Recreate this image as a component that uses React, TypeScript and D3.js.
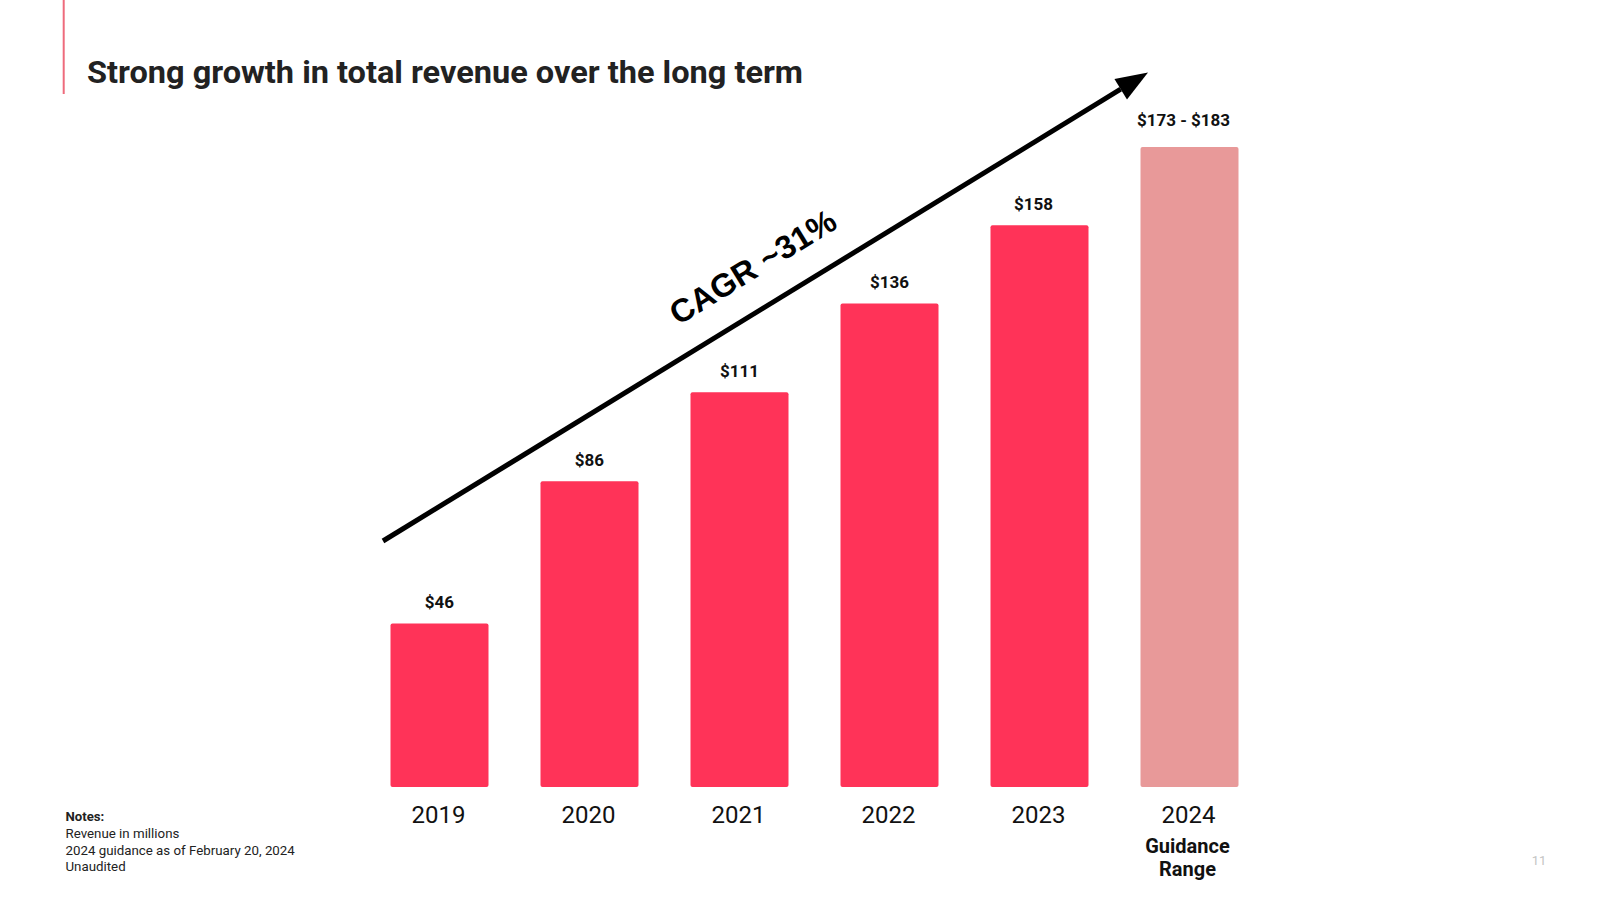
import React from "react";
import * as d3 from "d3";

const years = ["2019", "2020", "2021", "2022", "2023", "2024"];
const revenue = [46, 86, 111, 136, 158, 180];
const valueLabels = ["$46", "$86", "$111", "$136", "$158", "$173 - $183"];
const isGuidance = [false, false, false, false, false, true];
const subLabels = ["", "", "", "", "", "Guidance|Range"];
const notes = ["Revenue in millions", "2024 guidance as of February 20, 2024", "Unaudited"];

const W = 1600;
const H = 900;

export default function App() {
  const x = d3
    .scaleBand<string>()
    .domain(years)
    .range([364.5, 1264.5])
    .paddingInner(52 / 150)
    .paddingOuter(26 / 150);
  const y = d3.scaleLinear().domain([0, 180]).range([787, 147]);

  const barColor = "#FF3358";
  const guideColor = "#E89999";

  // arrow geometry
  const start: [number, number] = [383, 541];
  const tip: [number, number] = [1148, 72.5];
  const dx = tip[0] - start[0];
  const dy = tip[1] - start[1];
  const len = Math.hypot(dx, dy);
  const ux = dx / len;
  const uy = dy / len;
  const headLen = 32;
  const headHalf = 12;
  const base: [number, number] = [tip[0] - headLen * ux, tip[1] - headLen * uy];
  const nx = -uy;
  const ny = ux;
  const head = [
    tip,
    [base[0] + headHalf * nx, base[1] + headHalf * ny],
    [base[0] - headHalf * nx, base[1] - headHalf * ny],
  ];
  const angle = (Math.atan2(dy, dx) * 180) / Math.PI;
  const line = d3.line();

  return (
    <svg
      width={W}
      height={H}
      style={{ position: "absolute", left: 0, top: 0, display: "block", background: "#fff" }}
    >
      <rect x={0} y={0} width={W} height={H} fill="#fff" />
      <line x1={63.7} x2={63.7} y1={0} y2={94} stroke="#EE6B7C" strokeWidth={2} />
      <text
        x={87}
        y={82.5}
        fontFamily="Roboto, 'Noto Sans', sans-serif"
        fontWeight={700}
        fontSize={31}
        fill="#222"
        textLength={716}
        lengthAdjust="spacingAndGlyphs"
      >
        Strong growth in total revenue over the long term
      </text>

      {years.map((yr, i) => {
        const x0 = x(yr)!;
        const bw = x.bandwidth();
        const top = y(revenue[i]);
        const cx = x0 + bw / 2;
        return (
          <g key={yr}>
            <rect
              x={x0}
              y={top}
              width={bw}
              height={y(0) - top}
              rx={2}
              ry={2}
              fill={isGuidance[i] ? guideColor : barColor}
            />
            <text
              x={cx - (i >= 4 ? 6 : 0)}
              y={top - (isGuidance[i] ? 21 : 15)}
              textAnchor="middle"
              fontFamily="Roboto, sans-serif"
              fontWeight={700}
              fontSize={17}
              fill="#111"
            >
              {valueLabels[i]}
            </text>
            <text
              x={cx - 1}
              y={823}
              textAnchor="middle"
              fontFamily="Roboto, sans-serif"
              fontSize={24}
              fill="#111"
            >
              {yr}
            </text>
            {subLabels[i]
              .split("|")
              .filter((s) => s)
              .map((s, k) => (
                <text
                  key={s}
                  x={cx - 2}
                  y={852.5 + k * 23.5}
                  textAnchor="middle"
                  fontFamily="Roboto, sans-serif"
                  fontWeight={700}
                  fontSize={20}
                  fill="#111"
                >
                  {s}
                </text>
              ))}
          </g>
        );
      })}

      <path d={line([start, base])!} stroke="#000" strokeWidth={5} fill="none" />
      <path d={line(head as [number, number][])! + "Z"} fill="#000" />
      <text
        transform={`translate(753,267) rotate(${angle})`}
        textAnchor="middle"
        dominantBaseline="central"
        fontFamily="'Liberation Sans', Arial, sans-serif"
        fontWeight={700}
        fontSize={32.5}
        fill="#000"
      >
        CAGR ~31%
      </text>

      <text x={65.5} y={820.5} fontFamily="Roboto, sans-serif" fontWeight={700} fontSize={13.2} fill="#222">
        Notes:
      </text>
      {notes.map((n, i) => (
        <text key={n} x={65.5} y={838 + i * 16.7} fontFamily="Roboto, sans-serif" fontSize={13.3} fill="#222">
          {n}
        </text>
      ))}
      <text x={1539} y={865} textAnchor="middle" fontFamily="Roboto, sans-serif" fontSize={13} fill="#c4c4c4">
        11
      </text>
    </svg>
  );
}
